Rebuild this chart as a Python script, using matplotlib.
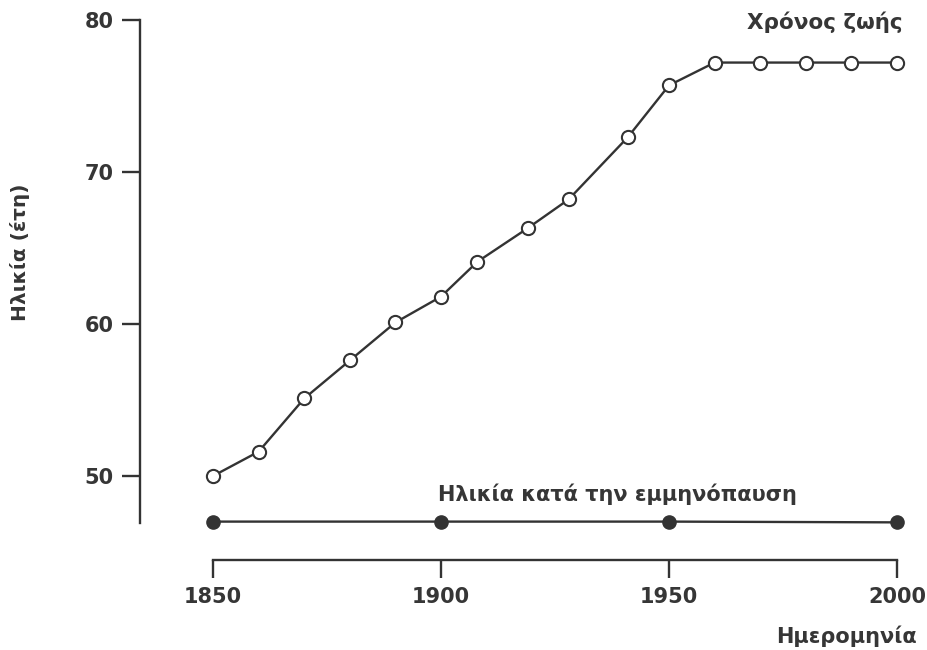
import matplotlib.pyplot as plt

# life expectancy (years) by year
life_years = [1850, 1860, 1870, 1880, 1890, 1900, 1908, 1919, 1928, 1941, 1950, 1960, 1970, 1980, 1990, 2000]
life_age = [50.0, 51.6, 55.1, 57.6, 60.1, 61.8, 64.1, 66.3, 68.2, 72.3, 75.7, 77.2, 77.2, 77.2, 77.2, 77.2]

# age at menopause
meno_years = [1850, 1900, 1950, 2000]
meno_age = [47.0, 47.0, 47.0, 46.95]

x_ticks = [1850, 1900, 1950, 2000]
y_ticks = [50, 60, 70, 80]

plt.rcParams['font.family'] = ['DejaVu Sans']
plt.rcParams['font.weight'] = 'bold'
col = '#333333'
tcol = '#363636'

fig = plt.figure(figsize=(9.27, 6.5), dpi=100)
ax = fig.add_axes([213/927, 1-559.6/650, (897-213)/927, (559.6-20)/650])

ax.plot(life_years, life_age, color=col, lw=1.7, marker='o', ms=9.5,
        mfc='white', mec=col, mew=1.5, clip_on=False, zorder=3)
ax.plot(meno_years, meno_age, color=col, lw=1.7, marker='o', ms=9.5,
        mfc=col, mec=col, clip_on=False, zorder=3)

ax.set_xlim(1850, 2000)
ax.set_ylim(44.5, 80)
ax.set_xticks(x_ticks)
ax.set_yticks(y_ticks)

for s in ['top', 'right']:
    ax.spines[s].set_visible(False)
ax.spines['left'].set_position(('outward', 52.5))
ax.spines['left'].set_bounds(46.9, 80)
ax.spines['bottom'].set_bounds(1850, 2000)
for s in ['left', 'bottom']:
    ax.spines[s].set_color(col)
    ax.spines[s].set_linewidth(1.7)

ax.tick_params(axis='both', colors=col, labelcolor=tcol, width=1.7, length=13, labelsize=15, pad=6)
ax.tick_params(axis='x', pad=7)

ax.text(903/927, 1-22/650, 'Χρόνος ζωής', transform=fig.transFigure, ha='right', va='center',
        fontsize=15.5, color=tcol)
ax.text(1899.3, 48.8, 'Ηλικία κατά την εμμηνόπαυση', ha='left', va='center',
        fontsize=15, color=tcol)
fig.text(917/927, 1-636/650, 'Ημερομηνία', ha='right', va='center', fontsize=15, color=tcol)
fig.text(20/927, 1-252/650, 'Ηλικία (έτη)', ha='center', va='center', rotation=90,
         fontsize=14.5, color=tcol)

fig.savefig('out.png', dpi=100)
